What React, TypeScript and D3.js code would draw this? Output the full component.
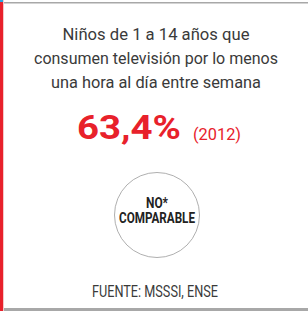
import React, { FC } from 'react';
import * as d3 from 'd3';

// Data
const titleLines = ['Niños de 1 a 14 años que', 'consumen televisión por lo menos', 'una hora al día entre semana'];
const titleWidths = [187, 244, 210];
const mainValue = 63.4;
const valueYear = '2012';
const badgeLines = ['NO*', 'COMPARABLE'];
const badgeWidths = [22, 76];
const sourceText = 'FUENTE: MSSSI, ENSE';

const W = 308;
const H = 311;
const RED = '#e8212b';
const FONT = '"Liberation Sans Narrow", "Roboto", "Liberation Sans", sans-serif';

const fmtValue = (v: number) => d3.format('.1f')(v).replace('.', ',') + '%';

const App: FC = () => {
  const cx = 156;
  const titleY = d3.scaleLinear().domain([0, 1]).range([40, 64]);
  const badgeY = d3.scaleLinear().domain([0, 1]).range([208, 223]);

  return (
    <div style={{ position: 'absolute', left: 0, top: 0 }}>
      <svg width={W} height={H} style={{ display: 'block' }}>
        <rect x={0} y={0} width={W} height={H} fill="#fff" />
        {/* frame */}
        <rect x={0} y={0} width={3} height={H} fill={RED} />
        <rect x={0} y={0} width={3} height={2} fill="#2aa6e0" />
        <rect x={3} y={0} width={1} height={H} fill="#f3c9c9" />
        <rect x={4} y={2} width={W - 4} height={1.5} fill="#a8a8a8" />
        <rect x={4} y={308} width={W - 4} height={3} fill="#a8a8a8" />

        {titleLines.map((t, i) => (
          <text
            key={t}
            x={cx}
            y={titleY(i)}
            textAnchor="middle"
            fontFamily={FONT}
            fontSize={17}
            fill="#3a3a3a"
            textLength={titleWidths[i]}
            lengthAdjust="spacingAndGlyphs"
          >
            {t}
          </text>
        ))}

        <text x={77} y={139} fontFamily={FONT} fontSize={34} fontWeight="bold" fill={RED} textLength={104} lengthAdjust="spacingAndGlyphs">
          {fmtValue(mainValue)}
        </text>
        <text x={193} y={140} fontFamily={FONT} fontSize={17} fill={RED} textLength={48} lengthAdjust="spacingAndGlyphs">
          ({valueYear})
        </text>

        <circle cx={157} cy={215} r={42.5} fill="#fff" stroke="#9a9a9a" strokeWidth={0.8} />
        {badgeLines.map((t, i) => (
          <text
            key={t}
            x={157}
            y={badgeY(i)}
            textAnchor="middle"
            fontFamily={FONT}
            fontSize={14}
            fontWeight="bold"
            fill="#222"
            textLength={badgeWidths[i]}
            lengthAdjust="spacingAndGlyphs"
          >
            {t}
          </text>
        ))}

        <text x={155} y={297} textAnchor="middle" fontFamily={FONT} fontSize={16} fill="#3a3a3a" textLength={126} lengthAdjust="spacingAndGlyphs">
          {sourceText}
        </text>
      </svg>
    </div>
  );
};

export default App;
